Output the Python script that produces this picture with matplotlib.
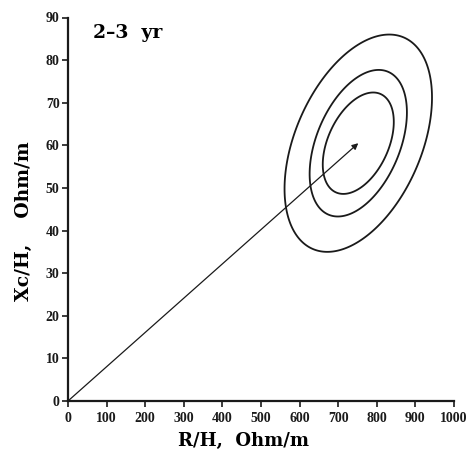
import numpy as np
import matplotlib
matplotlib.use('Agg')
import matplotlib.pyplot as plt
from matplotlib.patches import Polygon

# centre of the ellipses (arrow tip), data units
center = (752, 60.5)

# half extents of the three contours along x and y, plus correlation (tilt)
half_x = [92, 126, 191]
half_y = [11.9, 17.2, 25.5]
rho = 0.42

x_ticks = [0, 100, 200, 300, 400, 500, 600, 700, 800, 900, 1000]
y_ticks = [0, 10, 20, 30, 40, 50, 60, 70, 80, 90]

label_font = {'family': 'DejaVu Serif', 'weight': 'bold'}
tick_font = 'Liberation Serif'
ink = '#1a1a1a'

fig = plt.figure(figsize=(4.7, 4.5), dpi=100)
ax = fig.add_axes([68 / 470, 49 / 450, 386 / 470, 383.5 / 450])

# ellipses
t = np.linspace(0, 2 * np.pi, 400, endpoint=False)
for sx, sy in zip(half_x, half_y):
    ex = center[0] + sx * np.cos(t)
    ey = center[1] + sy * (rho * np.cos(t) + np.sqrt(1 - rho ** 2) * np.sin(t))
    ax.add_patch(Polygon(np.column_stack([ex, ey]), closed=True, fill=False,
                         edgecolor=ink, lw=1.3))

# vector from the origin to the centre
ax.annotate('', xy=center, xytext=(0, 0),
            arrowprops=dict(arrowstyle='-|>', color=ink, lw=0.9,
                            mutation_scale=9, shrinkA=0, shrinkB=0))

ax.set_xlim(0, 1000)
ax.set_ylim(0, 90)
ax.set_xticks(x_ticks)
ax.set_yticks(y_ticks)

for side in ['top', 'right']:
    ax.spines[side].set_visible(False)
for side in ['left', 'bottom']:
    ax.spines[side].set_linewidth(1.6)
    ax.spines[side].set_color(ink)

ax.tick_params(axis='x', direction='out', length=4, width=1.2, pad=4, colors=ink)
ax.tick_params(axis='y', direction='out', length=4, width=1.2, pad=2, colors=ink)
for lab in ax.get_xticklabels() + ax.get_yticklabels():
    lab.set_fontfamily(tick_font)
    lab.set_fontweight('bold')
    lab.set_fontsize(10)

ax.set_xlabel('R/H,  Ohm/m', fontsize=13, **label_font)
ax.set_ylabel('Xc/H,    Ohm/m', fontsize=13.5, **label_font)
ax.xaxis.set_label_coords((244 - 68) / 386, -31 / 383.5)
ax.yaxis.set_label_coords(-35 / 386, (401 - 221) / 383.5)

ax.text(65, 88.5, '2\u20133  yr', fontsize=13.5, va='top', **label_font)

fig.savefig('out.png', dpi=100)
